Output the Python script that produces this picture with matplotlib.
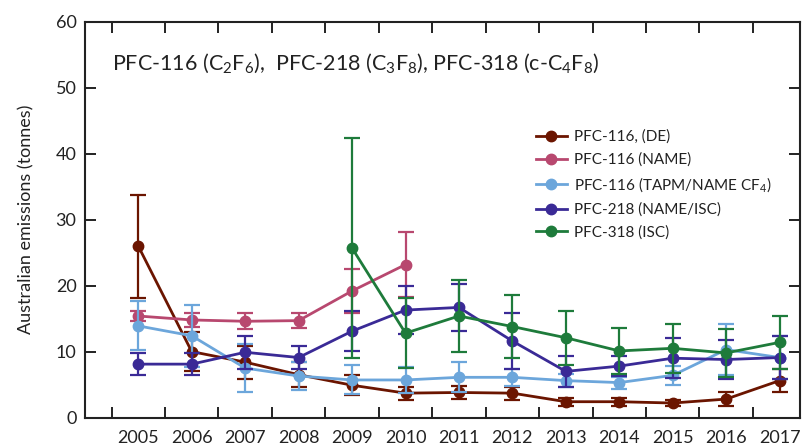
import matplotlib
matplotlib.use("Agg")
import matplotlib.pyplot as plt
from matplotlib.lines import Line2D
import numpy as np

plt.rcParams['font.family'] = ['Lato', 'DejaVu Sans']
plt.rcParams['mathtext.default'] = 'regular'

years = list(range(2005, 2018))

de_val = [26.0, 10.0, 8.4, 6.5, 4.9, 3.7, 3.8, 3.7, 2.4, 2.4, 2.2, 2.8, 5.6]
de_err = [7.8, 3.0, 2.5, 1.9, 1.5, 1.0, 1.0, 1.0, 0.6, 0.6, 0.5, 1.0, 1.7]

name_years = [2005, 2006, 2007, 2008, 2009, 2010]
name_val = [15.4, 14.8, 14.6, 14.7, 19.2, 23.2]
name_err = [0.8, 1.0, 1.2, 1.1, 3.4, 4.9]

tapm_val = [13.9, 12.4, 7.5, 6.3, 5.7, 5.7, 6.1, 6.1, 5.6, 5.3, 6.4, 10.3, 9.1]
tapm_err = [3.7, 4.7, 3.6, 2.1, 2.2, 2.0, 2.3, 1.3, 1.0, 0.9, 1.4, 3.9, 3.2]

p218_val = [8.1, 8.1, 9.9, 9.1, 13.1, 16.3, 16.7, 11.6, 7.0, 7.8, 9.0, 8.8, 9.1]
p218_err = [1.7, 1.7, 2.5, 1.8, 3.0, 3.6, 3.5, 4.2, 2.4, 1.5, 3.0, 3.0, 3.2]

p318_years = list(range(2009, 2018))
p318_val = [25.7, 12.8, 15.4, 13.8, 12.1, 10.1, 10.5, 9.8, 11.4]
p318_err = [16.7, 5.3, 5.4, 4.8, 4.1, 3.5, 3.7, 3.6, 4.0]

labels = ['PFC-116, (DE)', 'PFC-116 (NAME)', 'PFC-116 (TAPM/NAME CF$_4$)',
          'PFC-218 (NAME/ISC)', 'PFC-318 (ISC)']
colors = ['#6B1500', '#B8486F', '#6CA6DB', '#3A2A96', '#1E7B3B']

fig = plt.figure(figsize=(8.08, 4.48), dpi=100)
ax = fig.add_axes([0.105, 0.068, 0.885, 0.883])

series = [(years, de_val, de_err), (name_years, name_val, name_err),
          (years, tapm_val, tapm_err), (years, p218_val, p218_err),
          (p318_years, p318_val, p318_err)]
order = [2, 1, 4, 3, 0]
for i in order:
    x, v, e = series[i]
    ax.errorbar(x, v, yerr=e, color=colors[i], marker='o', markersize=7.5,
                lw=2, elinewidth=1.6, capsize=5.5, capthick=1.6,
                zorder=3 + i)

ax.set_xlim(2004, 2017.38)
ax.set_ylim(0, 60)
ax.set_xticks(years)
ax.set_xticks(np.arange(2004.5, 2017, 1.0), minor=True)
ax.set_yticks(range(0, 61, 10))
ax.tick_params(axis='x', which='major', length=0, pad=9, labelsize=13, colors='#222222')
ax.tick_params(axis='x', which='minor', direction='in', length=8, width=1.4,
               top=True, bottom=True, color='#222222')
ax.tick_params(axis='y', which='major', direction='in', length=8, width=1.4,
               left=True, right=True, pad=6, labelsize=13, colors='#222222')
for s in ax.spines.values():
    s.set_linewidth(1.5)
    s.set_color('#222222')

ax.set_ylabel('Australian emissions (tonnes)', fontsize=13, labelpad=15, color='#222222')

ax.text(0.038, 0.895,
        'PFC-116 (C$_2$F$_6$),  PFC-218 (C$_3$F$_8$), PFC-318 (c-C$_4$F$_8$)',
        transform=ax.transAxes, fontsize=15.5, color='#222222', va='center', ha='left')

handles = [Line2D([], [], color=c, marker='o', markersize=7.5, lw=2) for c in colors]
leg = ax.legend(handles, labels, loc='upper left',
                bbox_to_anchor=(0.612, 0.762), frameon=False, fontsize=11,
                handlelength=2.0, handletextpad=0.5, labelspacing=0.55)
for t in leg.get_texts():
    t.set_color('#222222')

fig.savefig('out.png', dpi=100)
